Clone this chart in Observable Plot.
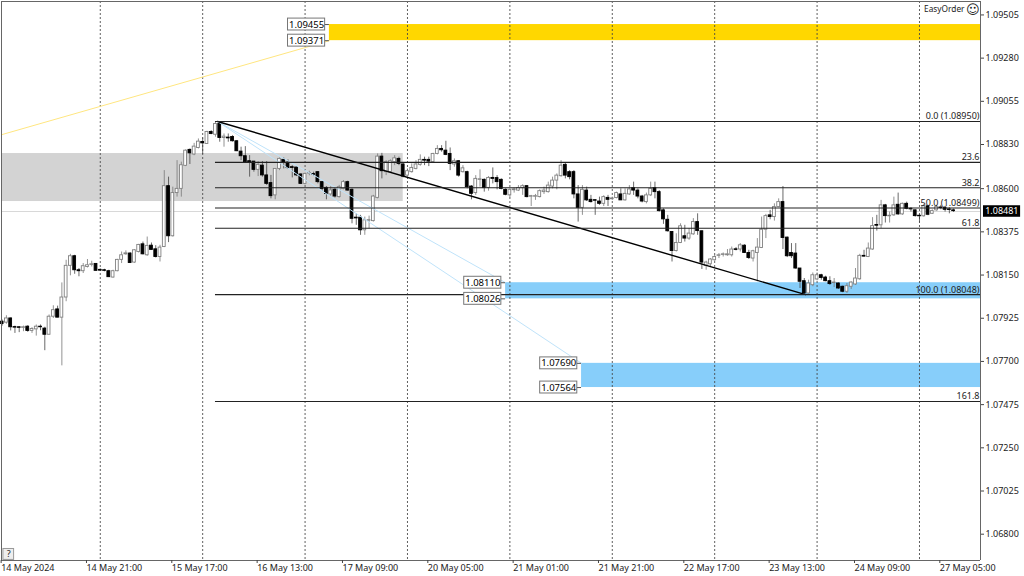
<!DOCTYPE html>
<html><head><meta charset="utf-8">
<script src="https://cdn.jsdelivr.net/npm/d3@7"></script>
<script src="https://cdn.jsdelivr.net/npm/@observablehq/plot@0.6"></script>
<style>html,body{margin:0;padding:0;background:#fff}svg{display:block}</style>
</head><body><div id="chart"></div>
<script>
// Prices in points (1e-5)
const opens=[
107913,107908,107930,107885,107884,107881,107887,107865,107873,107887,
107877,107845,107939,107977,107934,108039,108204,108254,108181,108176,
108198,108209,108214,108183,108181,108176,108143,108176,108235,108264,
108268,108221,108276,108316,108259,108309,108290,108250,108302,108619,
108358,108583,108605,108725,108808,108784,108818,108849,108839,108901,
108887,108943,108870,108872,108875,108853,108799,108775,108749,108747,
108704,108726,108675,108635,108571,108709,108756,108742,108718,108716,
108680,108631,108685,108682,108692,108640,108610,108576,108600,108562,
108605,108640,108600,108455,108455,108389,108439,108437,108558,108773,
108692,108692,108744,108761,108732,108674,108692,108709,108730,108756,
108756,108744,108787,108813,108804,108787,108732,108749,108692,108692,
108617,108583,108652,108652,108610,108662,108661,108652,108600,108571,
108598,108596,108609,108619,108564,108564,108562,108588,108588,108617,
108648,108671,108730,108692,108692,108576,108506,108596,108548,108546,
108539,108527,108558,108551,108557,108576,108545,108576,108609,108596,
108565,108536,108571,108609,108588,108493,108444,108380,108281,108323,
108358,108346,108368,108432,108384,108204,108212,108233,108256,108261,
108259,108259,108290,108289,108309,108271,108242,108271,108297,108392,
108467,108458,108510,108536,108351,108271,108268,108190,108124,108060,
108103,108133,108155,108143,108124,108114,108112,108095,108069,108095,
108107,108134,108256,108250,108289,108417,108415,108519,108462,108467,
108522,108472,108527,108501,108493,108465,108462,108514,108475,108493,
108508,108507,108498,108493];
const highs=[
107922,107944,107932,107890,107887,107890,107892,107882,107896,107896,
107884,107948,107996,107994,108115,108233,108264,108259,108190,108216,
108237,108228,108216,108188,108186,108181,108181,108238,108276,108282,
108273,108289,108316,108328,108354,108323,108309,108311,108700,108666,
108614,108752,108744,108808,108813,108842,108865,108870,108905,108908,
108951,108951,108891,108891,108882,108856,108822,108825,108778,108747,
108747,108747,108747,108675,108709,108766,108766,108756,108726,108718,
108683,108687,108697,108692,108695,108643,108617,108617,108610,108623,
108648,108645,108605,108475,108467,108458,108463,108571,108787,108790,
108752,108756,108778,108770,108738,108709,108735,108752,108782,108770,
108770,108790,108830,108830,108853,108818,108761,108752,108726,108697,
108622,108674,108704,108657,108669,108714,108674,108657,108605,108605,
108609,108622,108626,108622,108571,108576,108600,108614,108640,108666,
108683,108752,108738,108700,108700,108622,108622,108614,108571,108548,
108562,108569,108571,108562,108588,108605,108605,108622,108640,108605,
108571,108583,108640,108640,108596,108501,108467,108380,108371,108423,
108415,108398,108450,108475,108385,108228,108242,108259,108268,108271,
108289,108302,108299,108320,108314,108285,108285,108346,108458,108472,
108493,108527,108553,108617,108354,108320,108320,108190,108138,108129,
108167,108167,108160,108150,108147,108138,108115,108098,108112,108121,
108190,108264,108285,108323,108455,108467,108545,108524,108484,108562,
108583,108531,108536,108507,108496,108470,108524,108519,108496,108519,
108519,108514,108507,108500];
const lows=[
107890,107900,107865,107852,107856,107861,107858,107852,107838,107866,
107762,107844,107930,107934,107683,108017,108152,108160,108147,108164,
108193,108198,108176,108176,108173,108143,108140,108173,108216,108259,
108216,108217,108271,108261,108254,108285,108245,108224,108299,108325,
108354,108562,108562,108721,108732,108778,108813,108784,108836,108887,
108874,108848,108822,108848,108849,108799,108752,108740,108666,108692,
108669,108666,108623,108553,108548,108700,108709,108706,108662,108669,
108628,108626,108673,108669,108631,108593,108548,108567,108557,108557,
108600,108593,108423,108415,108363,108363,108397,108432,108553,108657,
108674,108687,108726,108726,108662,108666,108687,108704,108723,108726,
108721,108738,108782,108796,108778,108700,108718,108666,108687,108605,
108548,108571,108614,108588,108593,108631,108600,108600,108569,108558,
108583,108591,108571,108558,108513,108545,108558,108576,108583,108605,
108600,108666,108657,108652,108553,108432,108467,108539,108531,108467,
108519,108513,108513,108545,108553,108545,108541,108571,108571,108553,
108532,108527,108565,108553,108484,108420,108380,108224,108276,108320,
108328,108337,108363,108363,108185,108181,108198,108228,108242,108250,
108254,108250,108282,108276,108268,108237,108224,108121,108294,108346,
108444,108437,108507,108289,108247,108242,108186,108086,108057,108057,
108095,108126,108129,108121,108102,108091,108081,108064,108060,108081,
108102,108129,108250,108247,108285,108385,108398,108427,108427,108462,
108467,108467,108496,108484,108458,108427,108458,108465,108472,108489,
108496,108484,108475,108482];
const closes=[
107901,107930,107884,107882,107881,107884,107865,107875,107887,107884,
107845,107939,107973,107934,108039,108204,108254,108181,108176,108202,
108207,108212,108178,108179,108178,108145,108176,108235,108259,108269,
108219,108285,108313,108264,108308,108287,108250,108299,108619,108358,
108583,108605,108728,108804,108790,108825,108851,108842,108901,108891,
108943,108870,108877,108868,108853,108801,108775,108744,108742,108704,
108730,108675,108631,108567,108709,108761,108742,108713,108714,108675,
108631,108683,108688,108678,108640,108605,108579,108597,108565,108614,
108640,108596,108449,108451,108389,108441,108442,108565,108773,108697,
108744,108749,108764,108735,108669,108697,108714,108732,108756,108752,
108747,108787,108813,108806,108782,108735,108749,108674,108712,108614,
108579,108657,108655,108609,108662,108657,108640,108605,108574,108600,
108602,108609,108619,108562,108567,108567,108593,108596,108622,108648,
108674,108726,108674,108666,108576,108506,108600,108545,108536,108543,
108527,108562,108548,108555,108583,108545,108579,108602,108596,108565,
108539,108571,108605,108588,108489,108446,108384,108281,108323,108410,
108346,108372,108432,108385,108221,108221,108237,108250,108259,108264,
108264,108289,108287,108311,108271,108245,108280,108299,108392,108463,
108458,108510,108536,108349,108254,108254,108190,108121,108060,108112,
108155,108155,108141,108124,108109,108117,108086,108069,108098,108117,
108138,108256,108252,108294,108411,108413,108519,108463,108465,108519,
108472,108527,108501,108498,108463,108462,108514,108470,108489,108510,
108505,108496,108495,108489];

const priceTicks=[1.09505,1.0928,1.09055,1.0883,1.086,1.08375,1.0815,1.07925,1.077,1.07475,1.0725,1.07025,1.068];
const timeLabels=["14 May 2024","14 May 21:00","15 May 17:00","16 May 13:00","17 May 09:00","20 May 05:00","21 May 01:00","21 May 21:00","22 May 17:00","23 May 13:00","24 May 09:00","27 May 05:00"];
const timeBars=[0,20,40,60,80,100,120,140,160,180,200,220];
const dayBreaks=[23,47,71,95,119,143,167,191,215];
const fibNames=["0.0 (1.08950)","23.6","38.2","50.0 (1.08499)","61.8","100.0 (1.08048)","161.8"];
const fibPrices=[1.0895,1.08737,1.08605,1.08499,1.08394,1.08048,1.07491];
const lastPrice=1.08481;
const zoneTop=[1.09455,1.0811,1.0769];
const zoneBottom=[1.09371,1.08026,1.07564];
const zoneStart=[76.7,118,135.8];
const zoneColor=["#FFD700","#87CEFA","#87CEFA"];

const X0=-0.15,X1=229.3,YT=1.09575,YB=1.06663;
const readOffset=-6; // calibration of the points
const FONT="'Noto Sans',sans-serif";
const toPrice=v=>(v+readOffset)/1e5;
const bars=opens.map((o,i)=>({i,o:toPrice(o),h:toPrice(highs[i]),l:toPrice(lows[i]),c:toPrice(closes[i]),up:closes[i]>=o}));
const zones=zoneTop.map((t,k)=>({t,b:zoneBottom[k],s:zoneStart[k],col:zoneColor[k]}));
const zoneTags=zones.flatMap(z=>[{p:z.t,s:z.s},{p:z.b,s:z.s}]);
const fibs=fibPrices.map((p,k)=>({p,n:fibNames[k]}));
const fibStart=50;
const priceFmt=d3.format(".5f");

const plot=Plot.plot({
  width:1024,height:576,marginLeft:1,marginRight:44,marginTop:1,marginBottom:16,
  x:{type:"linear",domain:[X0,X1]},
  y:{type:"linear",domain:[YB,YT]},
  style:{fontFamily:FONT,fontSize:"9px",background:"#fff",color:"#222",overflow:"visible"},
  marks:[
    Plot.rect([{x1:X0,x2:94,y1:1.08533,y2:1.08783}],{x1:"x1",x2:"x2",y1:"y1",y2:"y2",fill:"#D3D3D3"}),
    Plot.rect(zones,{x1:"s",x2:X1,y1:"b",y2:"t",fill:"col"}),
    Plot.ruleX(dayBreaks,{stroke:"#444",strokeWidth:1,strokeDasharray:"2,2",strokeOpacity:.85}),
    Plot.ruleY([lastPrice],{x1:X0,x2:X1,stroke:"#d8d8d8",strokeWidth:1}),
    Plot.ruleX(bars,{x:"i",y1:"l",y2:"h",stroke:d=>d.up?"#777":"#444",strokeWidth:.8}),
    Plot.rect(bars,{x1:d=>d.i-.33,x2:d=>d.i+.33,y1:"o",y2:"c",
      fill:d=>d.up?"#fff":"#000",stroke:d=>d.up?"#808080":"#000",strokeWidth:.9}),
    Plot.line([{x:X0,y:1.08881},{x:76.7,y:1.09371}],{x:"x",y:"y",stroke:"#FFE680",strokeWidth:1}),
    Plot.line([{x:50.5,y:1.0895},{x:118,y:1.0811}],{x:"x",y:"y",stroke:"#BFE3FA",strokeWidth:1}),
    Plot.line([{x:50.5,y:1.0895},{x:135.8,y:1.0769}],{x:"x",y:"y",stroke:"#BFE3FA",strokeWidth:1}),
    Plot.line([{x:50.5,y:1.0895},{x:188.3,y:1.08048}],{x:"x",y:"y",stroke:"#000",strokeWidth:1.4}),
    Plot.ruleY(fibs,{y:"p",x1:fibStart,x2:X1,stroke:"#222",strokeWidth:1.1}),
    Plot.text(fibs,{x:X1,y:"p",text:"n",textAnchor:"end",dx:-1,dy:-5,fill:"#222",fontSize:9}),
    Plot.ruleY(zoneTags,{y:"p",x1:d=>d.s-1,x2:"s",stroke:"#555",strokeWidth:1}),
    Plot.rect(zoneTags,{x1:d=>d.s-9.7,x2:d=>d.s-1,y1:d=>d.p-.00031,y2:d=>d.p+.00031,fill:"#fff",stroke:"#777",strokeWidth:1}),
    Plot.text(zoneTags,{x:d=>d.s-5.35,y:"p",text:d=>priceFmt(d.p),fill:"#000",fontSize:9.5}),
    Plot.ruleX([X0],{stroke:"#666"}),
    Plot.ruleX([X1],{stroke:"#666"}),
    Plot.ruleY([YB],{stroke:"#666"}),
    Plot.ruleY([YT],{stroke:"#666"}),
    Plot.axisY(priceTicks,{anchor:"right",tickSize:3,tickPadding:2,tickFormat:priceFmt,label:null,stroke:"#444",fill:"#222",fontSize:9}),
    Plot.axisX(timeBars,{anchor:"bottom",tickSize:3,tickPadding:1,tickFormat:d=>timeLabels[timeBars.indexOf(d)],textAnchor:"start",dx:-1,label:null,stroke:"#444",fill:"#222",fontSize:9}),
    Plot.rect([lastPrice],{x1:X1+.7,x2:X1+9.4,y1:d=>d-.0003,y2:d=>d+.0003,fill:"#000",clip:false}),
    Plot.text([lastPrice],{x:X1+5,y:d=>d,text:priceFmt,fill:"#fff",fontSize:9}),
    Plot.text(["EasyOrder"],{frameAnchor:"top-right",dx:-16,dy:5,fontSize:8.3,fill:"#222"}),
    Plot.text(["\u263A"],{frameAnchor:"top-right",dx:-1,dy:3,fontSize:13,fill:"#222",fontFamily:"DejaVu Sans"}),
    Plot.rect([0],{x1:.3,x2:2.8,y1:YB+.00003,y2:YB+.0006,fill:"#eee",stroke:"#999"}),
    Plot.text(["?"],{x:1.55,y:YB+.00031,fontSize:9,fill:"#222"})
  ]
});
document.getElementById("chart").append(plot);
</script></body></html>
